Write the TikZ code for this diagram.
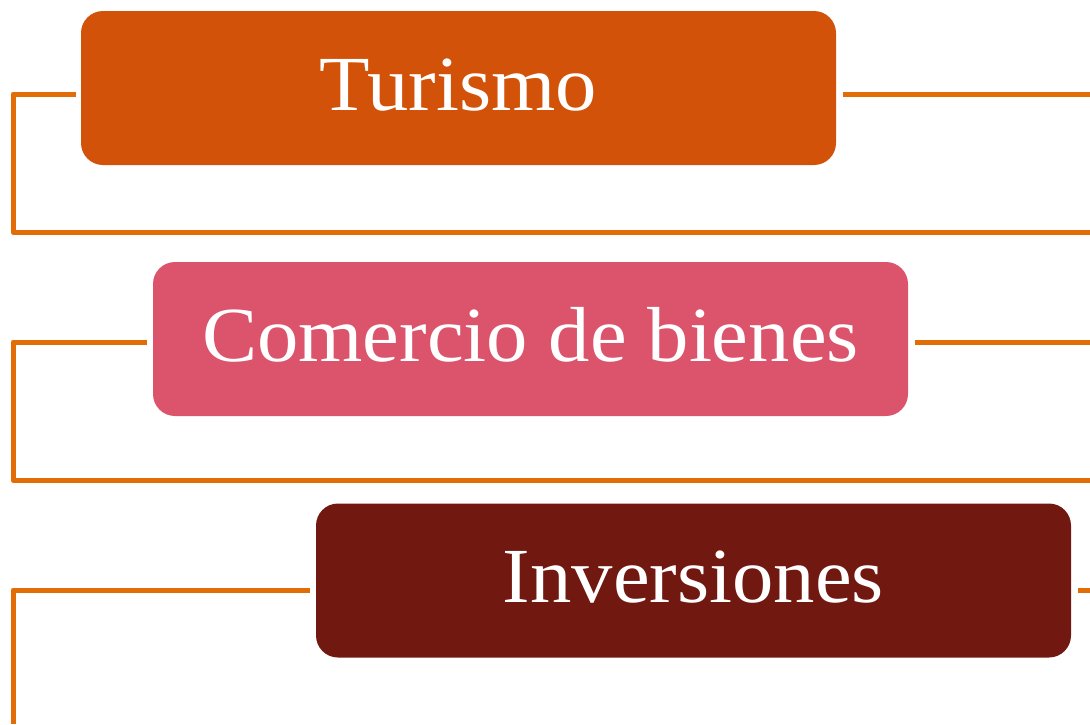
\documentclass[tikz,border=0pt]{standalone}
\usepackage{fontspec}
\setmainfont{Liberation Serif}[FakeStretch=1.06]
\definecolor{boxA}{RGB}{211,82,9}
\definecolor{boxB}{RGB}{219,84,108}
\definecolor{boxC}{RGB}{113,25,17}
\definecolor{wire}{RGB}{226,108,6}
\tikzset{
  card/.style={draw=none, rounded corners=22pt, minimum width=755pt, minimum height=154pt, inner sep=0pt},
  cardtext/.style={text=white, anchor=base, inner sep=0pt, font=\fontsize{78}{90}\selectfont},
  wireline/.style={draw=wire, line width=5pt, line join=round}
}
\begin{document}
\begin{tikzpicture}[x=1pt,y=-1pt]
\useasboundingbox (0,0) rectangle (1090,724);
% boxes
\node[card, fill=boxA] (b1) at (458.5,88) {};
\node[card, fill=boxB] (b2) at (530.5,339) {};
\node[card, fill=boxC] (b3) at (693.5,580.5) {};
% texts
\node[cardtext] (t1) at (458.5,110) {Turismo};
\node[cardtext] (t2) at (530.5,361) {Comercio de bienes};
\node[cardtext] (t3) at (693.5,602) {Inversiones};
% connector points
\coordinate (l1) at (76,94);
\coordinate (c1) at (13,94);
\coordinate (d1) at (13,232);
\coordinate (e1) at (1090,232);
\coordinate (r1a) at (843,94);
\coordinate (r1b) at (1090,94);
\coordinate (l2) at (147,342);
\coordinate (c2) at (13,342);
\coordinate (d2) at (13,480);
\coordinate (e2) at (1090,480);
\coordinate (r2a) at (915,342);
\coordinate (r2b) at (1090,342);
\coordinate (l3) at (310,590);
\coordinate (c3) at (13,590);
\coordinate (d3) at (13,724);
\coordinate (r3a) at (1078,590);
\coordinate (r3b) at (1090,590);
% connectors
\draw[wireline] (l1) -- (c1) -- (d1) -- (e1);
\draw[wireline] (r1a) -- (r1b);
\draw[wireline] (l2) -- (c2) -- (d2) -- (e2);
\draw[wireline] (r2a) -- (r2b);
\draw[wireline] (l3) -- (c3) -- (d3);
\draw[wireline] (r3a) -- (r3b);
\end{tikzpicture}
\end{document}
